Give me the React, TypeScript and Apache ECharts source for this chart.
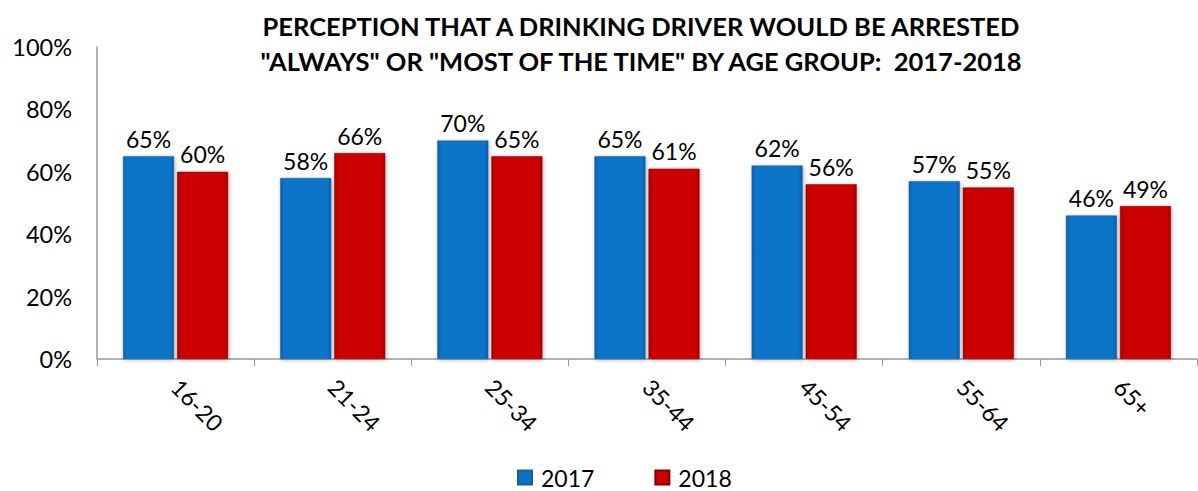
import React, { useEffect, useRef } from "react";
import * as echarts from "echarts";

const categories = ["16-20", "21-24", "25-34", "35-44", "45-54", "55-64", "65+"];
const values2017 = [65, 58, 70, 65, 62, 57, 46];
const values2018 = [60, 66, 65, 61, 56, 55, 49];
const yTicks = [0, 20, 40, 60, 80, 100];

const blue = new echarts.graphic.LinearGradient(0, 0, 1, 0, [
  { offset: 0, color: "#0A5EA8" },
  { offset: 0.08, color: "#0874C9" },
  { offset: 0.92, color: "#0874C9" },
  { offset: 1, color: "#0A5EA8" },
]);
const red = new echarts.graphic.LinearGradient(0, 0, 1, 0, [
  { offset: 0, color: "#A80000" },
  { offset: 0.08, color: "#CC0000" },
  { offset: 0.92, color: "#CC0000" },
  { offset: 1, color: "#A80000" },
]);

export default function App() {
  const ref = useRef<HTMLDivElement>(null);
  useEffect(() => {
    document.body.style.margin = "0";
    const chart = echarts.init(ref.current!, null, { renderer: "svg" });
    const font = "Lato, 'Open Sans', sans-serif";
    chart.setOption({
      animation: false,
      textStyle: { fontFamily: font },
      title: {
        text: 'PERCEPTION THAT A DRINKING DRIVER WOULD BE ARRESTED\n"ALWAYS" OR "MOST OF THE TIME" BY AGE GROUP:  2017-2018',
        left: 636,
        textAlign: "center",
        top: 3,
        textStyle: { fontFamily: font, fontSize: 25.5, fontWeight: "bold", color: "#000", lineHeight: 35 },
      },
      legend: {
        top: 461,
        left: 512,
        itemGap: 60,
        itemWidth: 14,
        itemHeight: 14,
        icon: "rect",
        textStyle: { fontFamily: font, fontSize: 23, color: "#000", padding: [0, 0, 0, 4] },
        data: ["2017", "2018"],
      },
      grid: { left: 97, right: 1, top: 47, bottom: 132 },
      xAxis: {
        type: "category",
        data: categories,
        axisLine: { lineStyle: { color: "#999", width: 1.5 } },
        axisTick: { show: true, length: 7, lineStyle: { color: "#999" } },
        axisLabel: { rotate: -45, fontSize: 23, color: "#000", margin: 24, fontFamily: font },
      },
      yAxis: {
        type: "value",
        min: 0,
        max: 100,
        interval: 20,
        axisLine: { show: true, lineStyle: { color: "#999", width: 1.5 } },
        axisTick: { show: false },
        splitLine: { show: false },
        axisLabel: {
          fontSize: 23.5,
          color: "#000",
          margin: 25,
          fontFamily: font,
          formatter: (v: number) => (yTicks.includes(v) ? v + "%" : ""),
        },
      },
      series: [
        {
          name: "2017",
          type: "bar",
          data: values2017,
          barWidth: 51,
          barGap: "6%",
          itemStyle: { color: blue, borderColor: "#1D5C96", borderWidth: 0.5, shadowColor: "rgba(0,0,0,0.3)", shadowBlur: 4, shadowOffsetX: 1, shadowOffsetY: 1 },
          label: { show: true, position: "top", distance: 6, fontSize: 23, color: "#000", fontFamily: font, formatter: "{c}%" },
        },
        {
          name: "2018",
          type: "bar",
          data: values2018,
          barWidth: 51,
          itemStyle: { color: red, borderColor: "#8A0000", borderWidth: 0.5, shadowColor: "rgba(0,0,0,0.3)", shadowBlur: 4, shadowOffsetX: 1, shadowOffsetY: 1 },
          label: { show: true, position: "top", distance: 6, fontSize: 23, color: "#000", fontFamily: font, formatter: "{c}%" },
        },
      ],
    });
    return () => chart.dispose();
  }, []);
  return <div ref={ref} style={{ width: 1198, height: 491 }} />;
}
